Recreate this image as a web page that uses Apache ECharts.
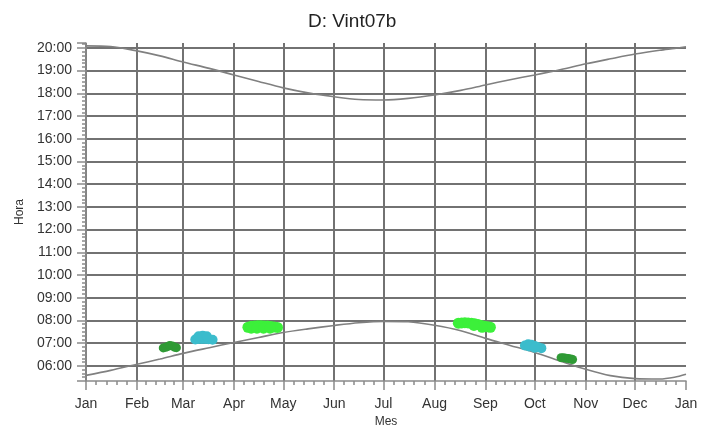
<!DOCTYPE html>
<html>
<head>
<meta charset="utf-8">
<script src="https://cdn.jsdelivr.net/npm/echarts@6/dist/echarts.min.js"></script>
<style>
html,body{margin:0;padding:0;background:#fff;}
#c{width:716px;height:430px;}
</style>
</head>
<body>
<div id="c"></div>
<script>
const MONTHS = ['Jan','Feb','Mar','Apr','May','Jun','Jul','Aug','Sep','Oct','Nov','Dec'];
const TITLE = 'D: Vint07b';
const X_NAME = 'Mes';
const Y_NAME = 'Hora';

// day-of-year sample points for the daylight curves
const CURVE_DAYS = [0,15,31,45,59,75,90,105,120,135,151,166,181,196,212,228,243,258,273,289,304,319,334,349,358,365];
const SUNRISE = [5.58,5.80,6.07,6.30,6.55,6.80,7.03,7.25,7.47,7.63,7.78,7.90,7.96,7.94,7.79,7.55,7.21,6.90,6.59,6.20,5.85,5.57,5.44,5.42,5.50,5.63];
const SUNSET  = [20.09,20.06,19.87,19.65,19.38,19.10,18.81,18.52,18.24,18.02,17.85,17.73,17.71,17.78,17.93,18.13,18.37,18.60,18.81,19.05,19.30,19.52,19.73,19.90,19.98,20.05];

// observation clusters: [day-of-year, hour]
const DARK_GREEN_A = [[47,6.79],[48.5,6.82],[50,6.86],[51,6.90],[52.5,6.88],[54,6.82],[55,6.80]];
const CYAN_A       = [[66.5,7.16],[68.5,7.18],[70.5,7.18],[72.5,7.18],[74.5,7.17],[77,7.15],[68.5,7.30],[71,7.33],[73.5,7.30]];
const GREEN_A      = [[98.5,7.70],[100.5,7.74],[102.5,7.76],[104.5,7.77],[106.5,7.77],[108.5,7.76],[110.5,7.75],[112.5,7.73],[114.5,7.71],[116.5,7.69],[100.5,7.66],[104,7.66],[108,7.66],[112,7.66]];
const GREEN_B      = [[226.5,7.88],[228.5,7.89],[230.5,7.90],[232.5,7.89],[234.5,7.88],[236.5,7.85],[238.5,7.82],[240.5,7.78],[242.5,7.74],[244.5,7.72],[246,7.70],[241,7.70],[236,7.78]];
const CYAN_B       = [[267,6.90],[269,6.95],[271,6.93],[273,6.88],[275,6.82],[277,6.78],[269.5,6.85],[273,6.80]];
const DARK_GREEN_B = [[289,6.36],[290.5,6.36],[292,6.34],[293.5,6.32],[295,6.30],[296,6.28]];

const Y_MIN = 5 + 20/60;
const Y_MAX = 20 + 13/60;

const BASE = Date.UTC(2023,0,1);
const DAY = 86400000;
const ts = d => BASE + d*DAY;

const curve = (hours) => CURVE_DAYS.map((d,i) => [ts(d), hours[i]]);
const pts = (arr) => arr.map(p => [ts(p[0]), p[1]]);

const chart = echarts.init(document.getElementById('c'), null, {renderer:'canvas'});
const FONT = 'Liberation Sans, Arial, sans-serif';

function blob(data, color, size){
  return {type:'scatter', data: pts(data), symbol:'circle', symbolSize:size,
    itemStyle:{color:color, opacity:1}, silent:true, z:3};
}

chart.setOption({
  useUTC: true,
  animation: false,
  backgroundColor:'#fff',
  title:{text:TITLE, left:303, top:7,
    textStyle:{fontFamily:FONT, fontSize:19, fontWeight:'normal', color:'#222'}},
  grid:{left:86, right:30, top:43, bottom:49, containLabel:false, outerBoundsMode:'none'},
  xAxis:{
    type:'time', min:ts(0), max:ts(365),
    minInterval:28*DAY, maxInterval:31*DAY, splitNumber:12,
    name:X_NAME, nameLocation:'middle', nameGap:35,
    nameTextStyle:{fontFamily:FONT, fontSize:12, color:'#333'},
    axisLine:{show:true, lineStyle:{color:'#8a8a8a', width:1.5}},
    axisTick:{show:true, length:9, lineStyle:{color:'#8a8a8a', width:1.5}},
    minorTick:{show:true, splitNumber:5, length:4, lineStyle:{color:'#8a8a8a', width:1.5}},
    axisLabel:{formatter: v => MONTHS[new Date(v).getUTCMonth()], margin:16,
      fontFamily:FONT, fontSize:14, color:'#333', hideOverlap:false,
      showMinLabel:true, showMaxLabel:true},
    splitLine:{show:true, showMinLine:false, showMaxLine:false, lineStyle:{color:'#727272', width:2}}
  },
  yAxis:{
    type:'value', min:Y_MIN, max:Y_MAX, minInterval:1, maxInterval:1,
    name:Y_NAME, nameLocation:'middle', nameGap:52, nameRotate:90,
    nameTextStyle:{fontFamily:FONT, fontSize:12, color:'#333'},
    axisLine:{show:true, lineStyle:{color:'#8a8a8a', width:1.5}},
    axisTick:{show:true, length:9, lineStyle:{color:'#8a8a8a', width:1.5}},
    minorTick:{show:true, splitNumber:6, length:4, lineStyle:{color:'#8a8a8a', width:1.5}},
    axisLabel:{formatter: v => { const h = Math.round(v); return (h<10?'0':'') + h + ':00'; },
      margin:14, fontFamily:FONT, fontSize:14, color:'#333',
      showMinLabel:false, showMaxLabel:false},
    splitLine:{show:true, showMinLine:false, showMaxLine:false, lineStyle:{color:'#727272', width:2}}
  },
  series:[
    {type:'line', data:curve(SUNSET), smooth:0.3, symbol:'none',
      lineStyle:{color:'#808080', width:1.6}, silent:true, z:2},
    {type:'line', data:curve(SUNRISE), smooth:0.3, symbol:'none',
      lineStyle:{color:'#808080', width:1.6}, silent:true, z:2},
    blob(DARK_GREEN_A, '#2f9a35', 9),
    blob(CYAN_A, '#3bbccc', 10),
    blob(GREEN_A, '#3cf03a', 11),
    blob(GREEN_B, '#3cf03a', 11),
    blob(CYAN_B, '#3bbccc', 10),
    blob(DARK_GREEN_B, '#2f9a35', 9)
  ]
});
</script>
</body>
</html>
